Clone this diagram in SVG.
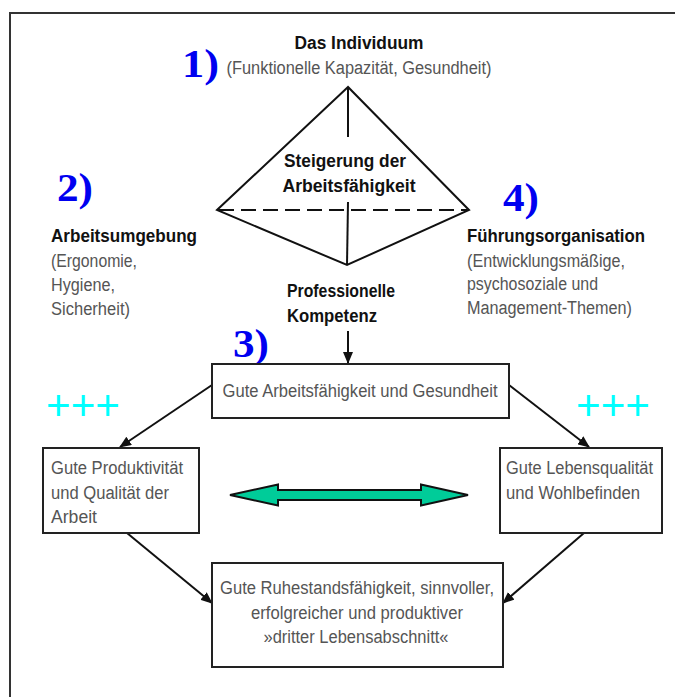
<svg xmlns="http://www.w3.org/2000/svg" width="675" height="697" viewBox="0 0 675 697">
<style>
.b{font-family:"Liberation Sans",Arial,sans-serif;font-weight:bold;font-size:18px;fill:#111}
.g{font-family:"Liberation Sans",Arial,sans-serif;font-size:18px;fill:#555}
.n{font-family:"Liberation Serif","Times New Roman",serif;font-weight:bold;font-size:41px;fill:#0000f0}
.p{font-family:"Liberation Sans",Arial,sans-serif;font-size:42px;fill:#00ffff}
.box{fill:#fff;stroke:#222;stroke-width:2}
.ln{stroke:#111;stroke-width:2;fill:none}
</style>
<defs>
<marker id="ah" viewBox="0 0 12 10" refX="11" refY="5" markerWidth="12" markerHeight="10" markerUnits="userSpaceOnUse" orient="auto">
<path d="M0,0 L12,5 L0,10 z" fill="#111"/>
</marker>
</defs>
<rect x="10" y="13" width="700" height="700" fill="none" stroke="#333" stroke-width="2"/>

<g id="individuum">
<text class="b" x="359" y="49" text-anchor="middle" textLength="129" lengthAdjust="spacingAndGlyphs">Das Individuum</text>
<text class="g" x="359" y="74" text-anchor="middle" textLength="265" lengthAdjust="spacingAndGlyphs">(Funktionelle Kapazität, Gesundheit)</text>
<text class="n" x="182" y="77" font-size="45" textLength="37" lengthAdjust="spacingAndGlyphs">1)</text>
</g>

<g id="pyramide">
<path class="ln" d="M348,87 L217,210 L347,265 L469,210 Z"/>
<line class="ln" x1="348" y1="87" x2="348" y2="137"/>
<line class="ln" x1="348" y1="202" x2="347" y2="265"/>
<line class="ln" x1="219" y1="210" x2="467" y2="210" stroke-dasharray="15,7"/>
<text class="b" x="345" y="167" text-anchor="middle" textLength="122" lengthAdjust="spacingAndGlyphs">Steigerung der</text>
<text class="b" x="349" y="192" text-anchor="middle" textLength="133" lengthAdjust="spacingAndGlyphs">Arbeitsfähigkeit</text>
</g>

<g id="arbeitsumgebung">
<text class="n" x="57" y="201" textLength="36" lengthAdjust="spacingAndGlyphs">2)</text>
<text class="b" x="51" y="242" textLength="146" lengthAdjust="spacingAndGlyphs">Arbeitsumgebung</text>
<text class="g" x="51" y="267" textLength="86" lengthAdjust="spacingAndGlyphs">(Ergonomie,</text>
<text class="g" x="51" y="291" textLength="64" lengthAdjust="spacingAndGlyphs">Hygiene,</text>
<text class="g" x="51" y="315" textLength="79" lengthAdjust="spacingAndGlyphs">Sicherheit)</text>
</g>

<g id="fuehrungsorganisation">
<text class="n" x="503" y="211" textLength="36" lengthAdjust="spacingAndGlyphs">4)</text>
<text class="b" x="467" y="242" textLength="178" lengthAdjust="spacingAndGlyphs">Führungsorganisation</text>
<text class="g" x="467" y="267" textLength="158" lengthAdjust="spacingAndGlyphs">(Entwicklungsmäßige,</text>
<text class="g" x="467" y="290" textLength="131" lengthAdjust="spacingAndGlyphs">psychosoziale und</text>
<text class="g" x="467" y="314" textLength="165" lengthAdjust="spacingAndGlyphs">Management-Themen)</text>
</g>

<g id="kompetenz">
<text class="b" x="287" y="297" textLength="108" lengthAdjust="spacingAndGlyphs">Professionelle</text>
<text class="b" x="287" y="322" textLength="90" lengthAdjust="spacingAndGlyphs">Kompetenz</text>
</g>

<g id="label3">
<text class="n" x="233" y="357" textLength="36" lengthAdjust="spacingAndGlyphs">3)</text>
</g>

<g id="plus-links"><text class="p" x="46" y="420" textLength="74" lengthAdjust="spacingAndGlyphs">+++</text></g>
<g id="plus-rechts"><text class="p" x="576" y="420" textLength="74" lengthAdjust="spacingAndGlyphs">+++</text></g>

<g id="connectors">
<line class="ln" x1="348" y1="331" x2="348" y2="363" marker-end="url(#ah)"/>
<line class="ln" x1="212" y1="385" x2="120" y2="447" marker-end="url(#ah)"/>
<line class="ln" x1="509" y1="385" x2="589" y2="447" marker-end="url(#ah)"/>
<line class="ln" x1="127" y1="533" x2="212" y2="603" marker-end="url(#ah)"/>
<line class="ln" x1="584" y1="533" x2="503" y2="603" marker-end="url(#ah)"/>
<path d="M230,495 L278,484.5 L278,490 L421,490 L421,484.5 L468,495 L421,505.5 L421,500 L278,500 L278,505.5 Z" fill="#00cc99" stroke="#111" stroke-width="2" stroke-linejoin="miter"/>
</g>

<g id="gesundheit">
<rect class="box" x="212" y="364" width="297" height="54"/>
<text class="g" x="360" y="397" text-anchor="middle" textLength="275" lengthAdjust="spacingAndGlyphs">Gute Arbeitsfähigkeit und Gesundheit</text>
</g>

<g id="produktivitaet">
<rect class="box" x="43" y="448" width="156" height="85"/>
<text class="g" x="51" y="474" textLength="132" lengthAdjust="spacingAndGlyphs">Gute Produktivität</text>
<text class="g" x="51" y="499" textLength="118" lengthAdjust="spacingAndGlyphs">und Qualität der</text>
<text class="g" x="51" y="523" textLength="46" lengthAdjust="spacingAndGlyphs">Arbeit</text>
</g>

<g id="lebensqualitaet">
<rect class="box" x="500" y="448" width="162" height="85"/>
<text class="g" x="506" y="474" textLength="147" lengthAdjust="spacingAndGlyphs">Gute Lebensqualität</text>
<text class="g" x="506" y="499" textLength="134" lengthAdjust="spacingAndGlyphs">und Wohlbefinden</text>
</g>

<g id="ruhestand">
<rect class="box" x="212" y="563" width="291" height="104"/>
<text class="g" x="357" y="594" text-anchor="middle" textLength="274" lengthAdjust="spacingAndGlyphs">Gute Ruhestandsfähigkeit, sinnvoller,</text>
<text class="g" x="357" y="619" text-anchor="middle" textLength="212" lengthAdjust="spacingAndGlyphs">erfolgreicher und produktiver</text>
<text class="g" x="356" y="643" text-anchor="middle" textLength="185" lengthAdjust="spacingAndGlyphs">»dritter Lebensabschnitt«</text>
</g>
</svg>
